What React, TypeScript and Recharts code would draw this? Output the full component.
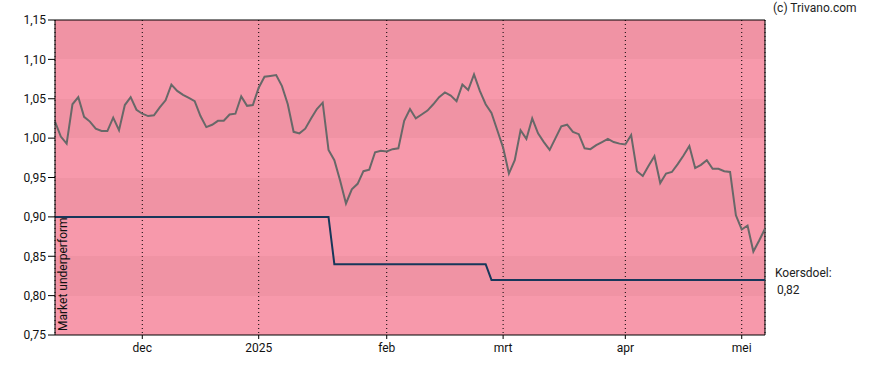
import React from "react";
import {
  LineChart,
  Line,
  XAxis,
  YAxis,
  CartesianGrid,
  ReferenceLine,
} from "recharts";

// closing price per trading day, 11 nov 2024 .. 7 mei 2025
const prices = [
  1.021, 1.002, 0.993, 1.043, 1.052, 1.027, 1.021, 1.012, 1.009, 1.009,
  1.026, 1.01, 1.042, 1.052, 1.036, 1.031, 1.028, 1.029, 1.039, 1.048,
  1.068, 1.06, 1.055, 1.051, 1.047, 1.028, 1.014, 1.017, 1.022, 1.022,
  1.03, 1.031, 1.053, 1.041, 1.042, 1.064, 1.078, 1.079, 1.08, 1.066,
  1.043, 1.008, 1.006, 1.012, 1.025, 1.037, 1.045, 0.985, 0.972, 0.946,
  0.917, 0.935, 0.942, 0.958, 0.96, 0.982, 0.984, 0.983, 0.986, 0.987,
  1.022, 1.037, 1.025, 1.03, 1.035, 1.043, 1.052, 1.058, 1.054, 1.047,
  1.068, 1.061, 1.081, 1.06, 1.043, 1.032, 1.01, 0.988, 0.955, 0.972,
  1.01, 0.999, 1.025, 1.006, 0.995, 0.985, 1.0, 1.015, 1.017, 1.008,
  1.005, 0.987, 0.986, 0.991, 0.995, 0.999, 0.995, 0.993, 0.992, 1.004,
  0.958, 0.952, 0.965, 0.977, 0.943, 0.955, 0.957, 0.967, 0.978, 0.99,
  0.962, 0.966, 0.972, 0.961, 0.961, 0.958, 0.957, 0.902, 0.884, 0.889,
  0.856, 0.87, 0.885,
];

// koersdoel (price target) changes
const targetIdx = [0, 47, 48, 74, 75, 122];
const targetVal = [0.9, 0.9, 0.84, 0.84, 0.82, 0.82];

const monthTicks = [15, 35, 57, 77, 98, 118];
const monthLabels = ["dec", "2025", "feb", "mrt", "apr", "mei"];

const yTicks = [0.75, 0.8, 0.85, 0.9, 0.95, 1.0, 1.05, 1.1, 1.15];

const LIGHT = "#f799ab";
const DARK = "#f093a4";

const data = prices.map((p, i) => ({ i, price: p }));
const targetData = targetIdx.map((i, k) => ({ i, target: targetVal[k] }));

const fmt = (v: number) => v.toFixed(2).replace(".", ",");

export default function App() {
  const lastIdx = prices.length - 1;
  return (
    <div style={{ position: "absolute", left: 0, top: 0, width: 888, height: 370, fontFamily: "Roboto" }}>
      <LineChart
        width={888}
        height={370}
        data={data}
        margin={{ top: 20, right: 123, left: 0, bottom: 0 }}
      >
        {/* alternating bands, top one dark */}
        <CartesianGrid
          vertical={false}
          stroke="transparent"
          horizontalFill={[DARK, LIGHT]}
          fillOpacity={1}
        />
        <CartesianGrid horizontal={false} stroke="#000" strokeDasharray="1 3" />
        <XAxis
          dataKey="i"
          type="number"
          domain={[0, lastIdx]}
          ticks={monthTicks}
          tickFormatter={(v) => monthLabels[monthTicks.indexOf(v)]}
          height={35}
          stroke="#000"
          tickSize={4}
          tickMargin={4}
          tick={{ fill: "#111", fontSize: 12, fontFamily: "Roboto" }}
        />
        <YAxis
          type="number"
          domain={[0.75, 1.15]}
          ticks={yTicks}
          tickFormatter={fmt}
          width={55}
          stroke="#000"
          tickSize={7}
          tickMargin={2}
          tick={{ fill: "#111", fontSize: 12, fontFamily: "Roboto" }}
        />
        <ReferenceLine y={1.15} stroke="#000" />
        <ReferenceLine x={lastIdx} stroke="#000" />
        <Line
          data={targetData}
          dataKey="target"
          type="linear"
          stroke="#17375a"
          strokeWidth={2}
          dot={false}
          isAnimationActive={false}
        />
        <Line
          dataKey="price"
          type="linear"
          stroke="#686868"
          strokeWidth={2}
          dot={false}
          isAnimationActive={false}
        />
      </LineChart>
      <svg
        width={888}
        height={370}
        style={{ position: "absolute", left: 0, top: 0, pointerEvents: "none" }}
        fontFamily="Roboto"
        fontSize={12}
      >
        <text x={773} y={12} fill="#222">
          (c) Trivano.com
        </text>
        <text x={775} y={277} fill="#222">
          Koersdoel:
        </text>
        <text x={777} y={294} fill="#222">
          {fmt(targetVal[targetVal.length - 1])}
        </text>
        <text x={67} y={331} fill="#111" transform="rotate(-90 67 331)">
          Market underperform
        </text>
      </svg>
    </div>
  );
}
